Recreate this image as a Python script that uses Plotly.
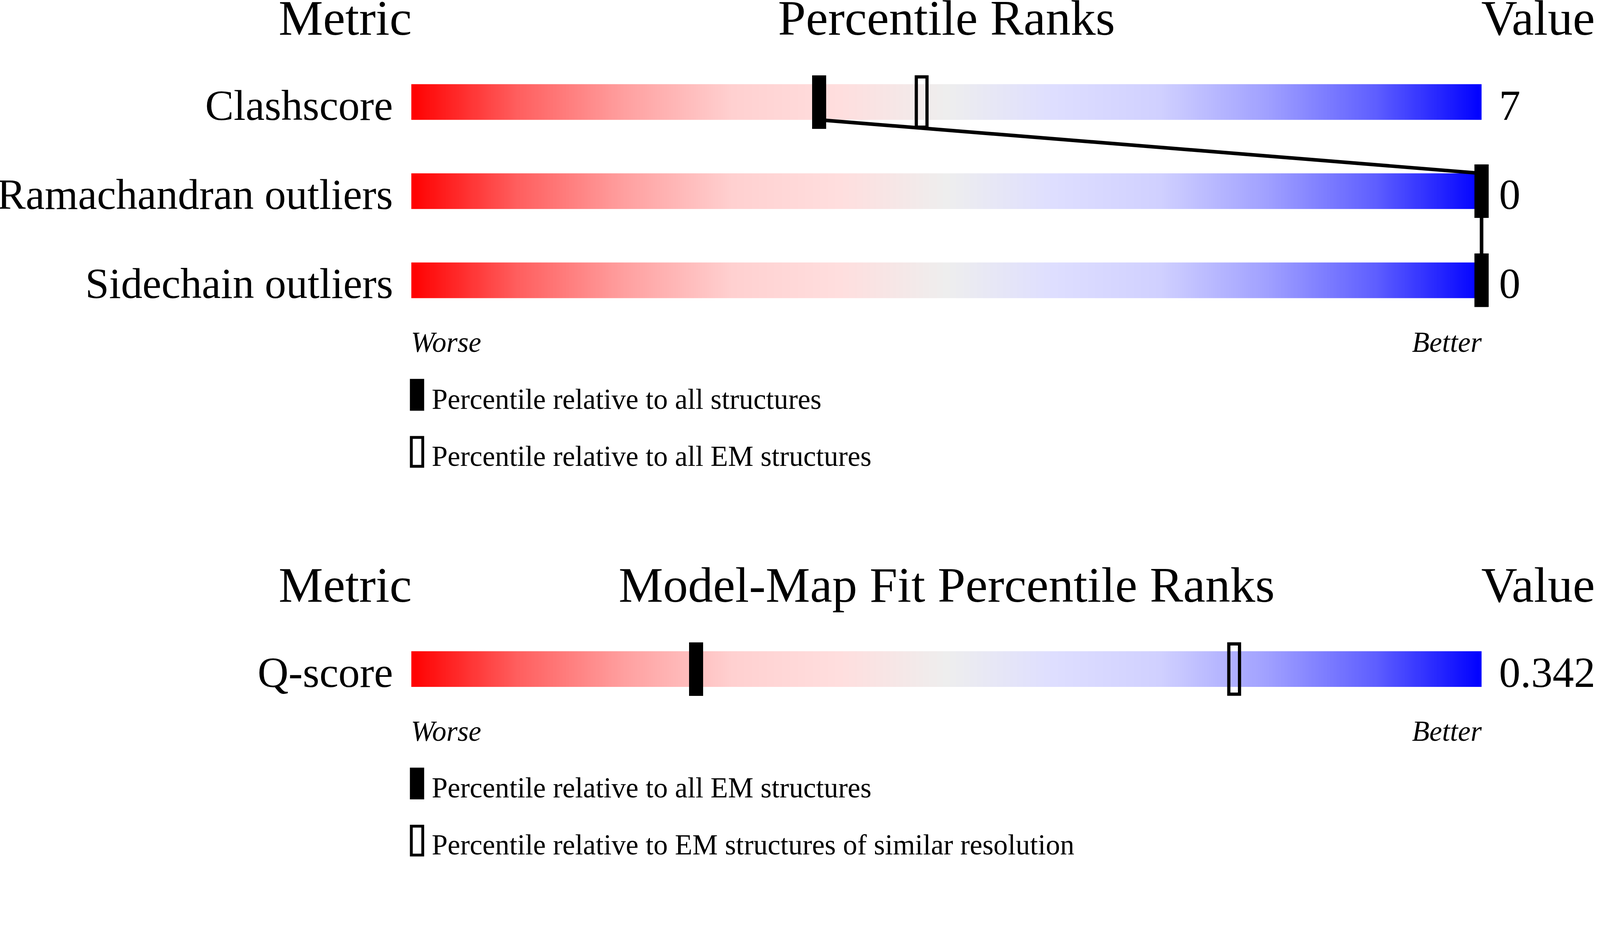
import numpy as np
import plotly.graph_objects as go

# ---------------- data ----------------
metrics_top = ["Clashscore", "Ramachandran outliers", "Sidechain outliers"]
values_top = ["7", "0", "0"]
pct_all_top = [38.1, 100.0, 100.0]      # percentile relative to all structures
pct_em_top = [47.7, 100.0, 100.0]       # percentile relative to all EM structures

metrics_bot = ["Q-score"]
values_bot = ["0.342"]
pct_all_em_bot = [26.6]                 # percentile relative to all EM structures
pct_sim_bot = [76.9]                    # percentile relative to EM structures of similar resolution

titles_top = ["Metric", "Percentile Ranks", "Value"]
titles_bot = ["Metric", "Model-Map Fit Percentile Ranks", "Value"]
legend_top = ["Percentile relative to all structures",
              "Percentile relative to all EM structures"]
legend_bot = ["Percentile relative to all EM structures",
              "Percentile relative to EM structures of similar resolution"]
scale_labels = ["Worse", "Better"]

# ---------------- layout constants ----------------
W, H = 4485, 2402
FONT = "Liberation Serif, Times New Roman, serif"
PX0, PX1 = 1153, 4153          # pixel span of the 0..100 percentile scale
U = (PX1 - PX0) / 100.0        # pixels per percentile
ROW = 250.0                    # pixels per row
TOP0, BOT0 = 286, 1876         # pixel centre of first row in each panel
PAD = 4

CS = [
    [0.0, "rgb(255,0,0)"],
    [0.1, "rgb(255,95,95)"],
    [0.2, "rgb(255,160,160)"],
    [0.3, "rgb(255,208,208)"],
    [0.4, "rgb(255,222,222)"],
    [0.5, "rgb(238,238,238)"],
    [0.6, "rgb(222,222,255)"],
    [0.7, "rgb(208,208,255)"],
    [0.8, "rgb(160,160,255)"],
    [0.9, "rgb(95,95,255)"],
    [1.0, "rgb(0,0,255)"],
]

fig = go.Figure()
NG = 1000
edges = np.linspace(0, 100, NG + 1)
grad = (edges[:-1] + edges[1:]) / 2


def px2x(px):
    return (px - PX0) / U


def add_panel(metrics, values, pct_filled, pct_open, titles, legend_txt, xa, ya):
    rows = list(range(len(metrics)))
    # gradient bars
    for r in rows:
        fig.add_trace(go.Heatmap(z=[grad], x=edges, y=[r - 0.2, r + 0.2],
                                 colorscale=CS, zmin=0, zmax=100, showscale=False,
                                 zsmooth=False, hoverinfo="skip", xaxis=xa, yaxis=ya))
    # connector between filled markers
    if len(rows) > 1:
        lx, ly = [], []
        for r in rows:
            if r > 0:
                lx.append(pct_filled[r]); ly.append(r - 0.2)
            if r < len(rows) - 1:
                lx.append(pct_filled[r]); ly.append(r + 0.2)
        fig.add_trace(go.Scatter(x=lx, y=ly, mode="lines",
                                 line=dict(color="black", width=10),
                                 hoverinfo="skip", xaxis=xa, yaxis=ya))
    # open markers
    fig.add_trace(go.Bar(x=pct_open, y=[141 / ROW] * len(rows),
                         base=[r - 70.5 / ROW for r in rows], width=30 / U,
                         marker=dict(color="rgba(0,0,0,0)", line=dict(color="black", width=9)),
                         hoverinfo="skip", xaxis=xa, yaxis=ya))
    # filled markers
    fig.add_trace(go.Bar(x=pct_filled, y=[150 / ROW] * len(rows),
                         base=[r - 75 / ROW for r in rows], width=40 / U,
                         marker=dict(color="black", line=dict(width=0)),
                         hoverinfo="skip", xaxis=xa, yaxis=ya))

    yref = ya
    xref = xa
    ann = []
    tdy = -0.946
    ann.append(dict(x=0.1, y=tdy, text=titles[0], xanchor="right", font=dict(size=140)))
    ann.append(dict(x=50, y=tdy, text=titles[1], xanchor="center", font=dict(size=140)))
    ann.append(dict(x=px2x(4150), y=tdy, text=titles[2], xanchor="left", font=dict(size=140)))
    for r in rows:
        ann.append(dict(x=px2x(1104), y=r + 0.037, text=metrics[r], xanchor="right",
                        font=dict(size=120)))
        ann.append(dict(x=px2x(4200), y=r + 0.037, text=values[r], xanchor="left",
                        font=dict(size=120)))
    last = rows[-1]
    ann.append(dict(x=px2x(1150), y=last + 0.695, text="<i>%s</i>" % scale_labels[0],
                    xanchor="left", font=dict(size=80)))
    ann.append(dict(x=px2x(4156), y=last + 0.695, text="<i>%s</i>" % scale_labels[1],
                    xanchor="right", font=dict(size=80)))
    for k, t in enumerate(legend_txt):
        cy = last + 1.284 + 0.64 * k
        ann.append(dict(x=px2x(1208), y=cy + 0.047, text=t, xanchor="left", font=dict(size=80)))
        if k == 0:
            fig.add_shape(type="rect", xref=xref, yref=yref,
                          x0=px2x(1149), x1=px2x(1189), y0=cy - 44.5 / ROW, y1=cy + 44.5 / ROW,
                          fillcolor="black", line=dict(width=0))
        else:
            fig.add_shape(type="rect", xref=xref, yref=yref,
                          x0=px2x(1153), x1=px2x(1185), y0=cy - 40.5 / ROW, y1=cy + 40.5 / ROW,
                          fillcolor="rgba(0,0,0,0)", line=dict(color="black", width=8))
    for a in ann:
        a.update(xref=xref, yref=yref, showarrow=False, yanchor="middle")
        a["font"].update(family=FONT, color="black")
        fig.add_annotation(**a)


add_panel(metrics_top, values_top, pct_all_top, pct_em_top, titles_top, legend_top, "x", "y")
add_panel(metrics_bot, values_bot, pct_all_em_bot, pct_sim_bot, titles_bot, legend_bot, "x2", "y2")

xdom = [(PX0 - PAD * U) / W, (PX1 + PAD * U) / W]
ax_common = dict(visible=False, showgrid=False, zeroline=False, fixedrange=True)
fig.update_layout(
    width=W, height=H, margin=dict(l=0, r=0, t=0, b=0),
    paper_bgcolor="white", plot_bgcolor="rgba(0,0,0,0)",
    showlegend=False, barmode="overlay", bargap=0,
    xaxis=dict(domain=xdom, range=[-PAD, 100 + PAD], anchor="y", **ax_common),
    xaxis2=dict(domain=xdom, range=[-PAD, 100 + PAD], anchor="y2", **ax_common),
    yaxis=dict(domain=[0, 1], range=[(H - TOP0) / ROW, -TOP0 / ROW], anchor="x", **ax_common),
    yaxis2=dict(domain=[0, 1], range=[(H - BOT0) / ROW, -BOT0 / ROW], anchor="x2", **ax_common),
    font=dict(family=FONT, color="black"),
)

# scale the fixed-size figure so that it exactly fills the browser viewport
FIT_JS = """
(function(){
  var gd = document.getElementById('{plot_id}');
  var html = document.documentElement, body = document.body;
  html.style.overflow = 'hidden'; body.style.overflow = 'hidden';
  html.style.margin = '0'; body.style.margin = '0'; body.style.padding = '0';
  var s = Math.min(window.innerWidth / %d, window.innerHeight / %d);
  var wrap = gd.parentElement;
  wrap.style.width = (%d * s) + 'px';
  wrap.style.height = (%d * s) + 'px';
  wrap.style.overflow = 'hidden';
  gd.style.transformOrigin = '0 0';
  gd.style.transform = 'scale(' + s + ')';
})();
""" % (W, H, W, H)

fig.write_html("out.html", config={"displayModeBar": False}, post_script=FIT_JS)
